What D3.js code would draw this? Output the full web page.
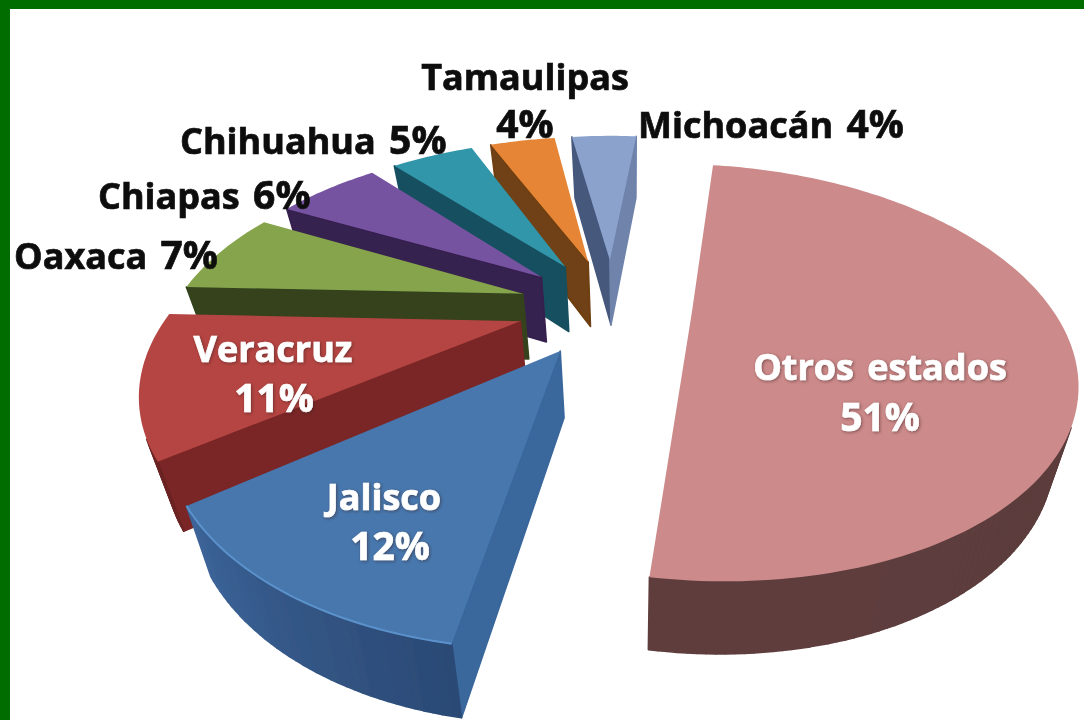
<!DOCTYPE html>
<html lang='es'>
<head>
  <meta charset='UTF-8'>
  <title>Estados</title>
  <script src='https://cdnjs.cloudflare.com/ajax/libs/d3/7.8.5/d3.min.js'></script>
  <style>
    * {
      margin: 0;
      padding: 0;
    }
    body {
      background: #fff;
      overflow: hidden;
    }
    text {
      font-family: 'Open Sans', sans-serif;
      font-weight: 700;
    }
  </style>
</head>
<body>
<div id='chart'></div>
<script>
  const categories = ['Otros estados', 'Jalisco', 'Veracruz', 'Oaxaca', 'Chiapas', 'Chihuahua', 'Tamaulipas', 'Michoacán']
  const values = [51, 12, 11, 7, 6, 5, 4, 4]

  const topColors = ['#cc8a8a', '#4677ad', '#b54542', '#86a44b', '#7653a0', '#3296ab', '#e58534', '#8ba2cc']
  const rimColorsFrom = ['#5f3e3e', '#3c6498', '#7a2626', '#34431f', '#36204f', '#17505f', '#6f3f12', '#46587d']
  const rimColorsTo = ['#553737', '#2b4a75', '#6a2222', '#34431f', '#36204f', '#17505f', '#6f3f12', '#46587d']
  const startWallColors = ['#553737', '#3a679c', '#7a2626', '#34431f', '#36204f', '#17505f', '#6f3f12', '#46587d']
  const endWallColors = ['#5f3e3e', '#3a679c', '#7a2626', '#34431f', '#36204f', '#17505f', '#6f3f12', '#6f83ab']

  // fitted by eye: pull out, radius factor and trim of both edges (degrees) for each slice
  const explodes = [0.23, 0.27, 0.27, 0.27, 0.27, 0.27, 0.27, 0.27]
  const radiusFactors = [1.03, 1, 1, 1, 1, 1, 1, 1]
  const startTrims = [2.2, 0, 0, 0, 0, 0, 0, 0]
  const endTrims = [0.9, 0, 0, 0, 0, 0, 0, 0]

  // label layout: one entry per category, each line is [x, baseline, anchor, text]
  const labelLayout = [
    {fill: '#fff', lines: [[880, 380, 'middle', d => d.name], [880, 431, 'middle', d => d.pct]]},
    {fill: '#fff', lines: [[384, 510, 'middle', d => d.name], [390, 560, 'middle', d => d.pct]]},
    {fill: '#fff', lines: [[273, 362, 'middle', d => d.name], [274, 412, 'middle', d => d.pct]]},
    {fill: '#0b0b0b', lines: [[14, 269, 'start', d => d.name + ' ' + d.pct]]},
    {fill: '#0b0b0b', lines: [[98, 209, 'start', d => d.name + ' ' + d.pct]]},
    {fill: '#0b0b0b', lines: [[180, 154, 'start', d => d.name + ' ' + d.pct]]},
    {fill: '#0b0b0b', lines: [[525, 90, 'middle', d => d.name], [525, 138, 'middle', d => d.pct]]},
    {fill: '#0b0b0b', lines: [[638, 138, 'start', d => d.name + ' ' + d.pct]]}
  ]

  let width = 1084
  let height = 720

  // pie geometry
  let centerX = 612
  let centerY = 306
  let radiusX = 348
  let radiusY = 182
  let perspective = 0.282
  let rotation = 5.8 * Math.PI / 180

  let svg = d3.select('#chart')
  .append('svg')
  .attr('xmlns', 'http://www.w3.org/2000/svg')
  .attr('width', width)
  .attr('height', height)

  let defs = svg.append('defs')
  let blur = defs.append('filter').attr('id', 'soft').attr('x', '-5%').attr('y', '-20%').attr('width', '110%').attr('height', '140%')
  blur.append('feGaussianBlur').attr('stdDeviation', 0.6)
  let glow = defs.append('filter').attr('id', 'shadow').attr('x', '-5%').attr('y', '-20%').attr('width', '110%').attr('height', '140%')
  glow.append('feDropShadow').attr('dx', 1).attr('dy', 1).attr('stdDeviation', 1.5).attr('flood-color', '#3a1a1a').attr('flood-opacity', 0.55)

  // green frame
  svg.append('rect').attr('width', width).attr('height', 9).attr('fill', '#016d01')
  svg.append('rect').attr('width', 10).attr('height', height).attr('fill', '#016d01')

  let scaleX = d3.scaleLinear().domain([-1, 1]).range([centerX - radiusX, centerX + radiusX])
  let scaleY = d3.scaleLinear().domain([-1, 1]).range([centerY - radiusY, centerY + radiusY])

  let pie = d3.pie().sort(null).startAngle(rotation).endAngle(rotation + 2 * Math.PI)
  let slices = pie(values)

  // plane point of the slice to screen position
  function project (r, angle, mid, explode) {
    let u = r * Math.sin(angle) + explode * Math.sin(mid)
    let v = -r * Math.cos(angle) - explode * Math.cos(mid)
    let s = 1 / (1 - perspective * v)
    return [scaleX(u * s), scaleY(v * s)]
  }

  // same point on the underside of the slice
  function drop (p) {
    return [p[0] - (p[0] - 630) * 0.055, p[1] + 58 + 0.025 * p[1]]
  }

  let line = d3.line().curve(d3.curveLinear)

  let chart = svg.append('g').attr('filter', 'url(#soft)')

  // back slices first, Otros estados is last
  let order = d3.range(1, categories.length).reverse().concat([0])

  order.forEach(i => {
    let d = slices[i]
    let mid = (d.startAngle + d.endAngle) / 2
    let first = d.startAngle + startTrims[i] * Math.PI / 180
    let last = d.endAngle - endTrims[i] * Math.PI / 180
    let steps = Math.ceil((last - first) / 0.02)
    let angles = d3.range(steps + 1).map(k => first + (last - first) * k / steps)
    let apex = project(0, 0, mid, explodes[i])
    let rim = angles.map(a => project(radiusFactors[i], a, mid, explodes[i]))
    let outline = [apex].concat(rim)
    let g = chart.append('g').attr('class', 'slice')

    function wall (a, b, color) {
      let quad = [a, b, drop(b), drop(a)]
      // only the faces turned to the viewer
      if (d3.polygonArea(quad) < 0) {
        return
      }
      g.append('path')
      .attr('d', line(quad) + 'Z')
      .attr('fill', color)
      .attr('stroke', color)
      .attr('stroke-width', 1.6)
      .attr('stroke-linejoin', 'round')
    }

    let rimColor = d3.interpolateRgb(rimColorsFrom[i], rimColorsTo[i])
    wall(apex, rim[0], startWallColors[i])
    wall(rim[rim.length - 1], apex, endWallColors[i])
    rim.slice(1).forEach((p, k) => {
      wall(rim[k], p, rimColor(1 - k / (rim.length - 2 || 1)))
    })

    g.append('path')
    .attr('d', line(outline) + 'Z')
    .attr('fill', topColors[i])
  })

  // light edge on the front of Jalisco
  let jalisco = slices[1]
  let jaliscoMid = (jalisco.startAngle + jalisco.endAngle) / 2
  chart.append('path')
  .attr('d', line(d3.range(41).map(k => project(1, jalisco.startAngle + (jalisco.endAngle - jalisco.startAngle) * k / 40, jaliscoMid, explodes[1]))))
  .attr('fill', 'none')
  .attr('stroke', '#5c92cc')
  .attr('stroke-width', 2)

  // labels, the percent is set a little larger than the name
  let labels = svg.append('g')
  labelLayout.forEach((layout, i) => {
    let d = {name: categories[i], pct: values[i] + '%'}
    layout.lines.forEach(l => {
      let text = labels.append('text')
      .attr('x', l[0])
      .attr('y', l[1])
      .attr('text-anchor', l[2])
      .attr('font-size', 36)
      .attr('word-spacing', 4)
      .attr('fill', layout.fill)
      .attr('stroke', layout.fill)
      .attr('stroke-width', 0.7)
      .attr('filter', layout.fill === '#fff' ? 'url(#shadow)' : 'url(#soft)')
      let parts = l[3](d).match(/^(.*?)(\d+%)?$/)
      if (parts[1]) {
        text.append('tspan').text(parts[1])
      }
      if (parts[2]) {
        text.append('tspan').attr('font-size', 39).text(parts[2])
      }
    })
  })
</script>
</body>
</html>
